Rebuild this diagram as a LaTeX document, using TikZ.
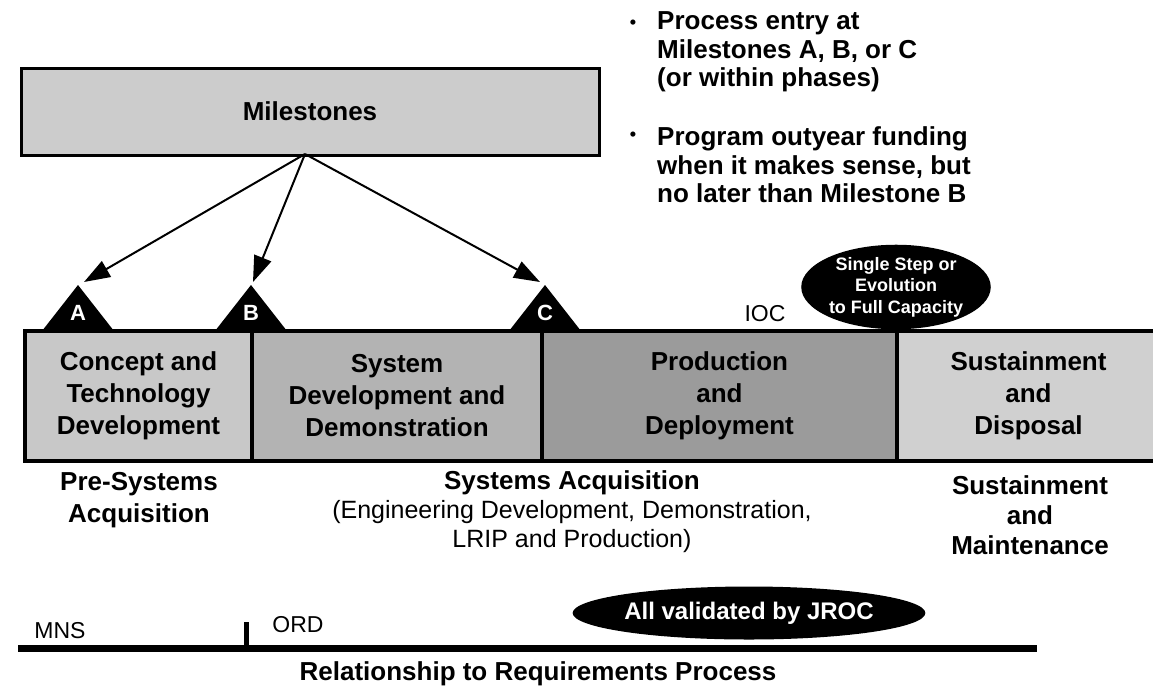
\documentclass[tikz,border=0pt]{standalone}
\usepackage{fontspec}
\setmainfont{Liberation Sans}
\usetikzlibrary{arrows.meta,shapes.geometric}
\definecolor{msgray}{HTML}{CCCCCC}
\definecolor{pone}{HTML}{C8C8C8}
\definecolor{ptwo}{HTML}{B3B3B3}
\definecolor{pthree}{HTML}{9B9B9B}
\definecolor{pfour}{HTML}{D0D0D0}
\newcommand{\fsz}[2]{\fontsize{#1}{#2}\selectfont}
\begin{document}
\begin{tikzpicture}[x=1pt,y=-1pt,
  phasebox/.style={draw=black,line width=3.5pt,minimum height=130pt,inner sep=0pt,align=center,font=\fsz{26}{32}\bfseries},
  msbox/.style={draw=black,line width=3pt,fill=msgray,inner sep=0pt,font=\fsz{26}{30}\bfseries},
  mstri/.style={fill=black},
  tletter/.style={text=white,font=\fsz{22}{24}\bfseries,inner sep=0pt},
  arr/.style={line width=2pt,-{Triangle[length=26pt,width=18pt]}},
  blackoval/.style={ellipse,fill=black,text=white,inner sep=0pt,align=center},
  bigbold/.style={align=center,inner sep=0pt,font=\fsz{26}{32}\bfseries},
  plain/.style={align=center,inner sep=0pt,font=\fsz{23}{26}},
  bullettext/.style={align=left,inner sep=0pt,anchor=west,font=\fsz{26}{28.5}\bfseries},
  bulletdot/.style={inner sep=0pt,font=\fsz{18}{20}\bfseries}
]
\useasboundingbox (0,0) rectangle (1153,691);

% Milestones box
\node[msbox,minimum width=578pt,minimum height=87pt] (ms) at (310,111.5) {Milestones};
\coordinate (mso) at (305,154);

% bullets
\node[bulletdot] (b1) at (633,24) {•};
\node[bullettext] (t1) at (657,52) {Process entry at\\Milestones A, B, or C\\(or within phases)};
\node[bulletdot] (b2) at (633,136) {•};
\node[bullettext] (t2) at (657,165) {Program outyear funding\\when it makes sense, but\\no later than Milestone B};

% phase boxes
\node[phasebox,fill=pfour,minimum width=263pt] (p4) at (1028.5,396) {Sustainment\\and\\Disposal};
\node[phasebox,fill=pthree,minimum width=355pt] (p3) at (719.5,396) {Production\\and\\Deployment};
\node[phasebox,fill=ptwo,minimum width=290pt] (p2) at (397,396) {System\\Development and\\Demonstration};
\node[phasebox,fill=pone,minimum width=227pt] (p1) at (138.5,396) {Concept and\\Technology\\Development};

% milestone triangles
\coordinate (apexA) at (78,285);
\coordinate (apexB) at (251,285);
\coordinate (apexC) at (545,285);
\fill[mstri] (apexA) -- (42,331) -- (114,331) -- cycle;
\fill[mstri] (apexB) -- (215,331) -- (287,331) -- cycle;
\fill[mstri] (apexC) -- (509,331) -- (581,331) -- cycle;
\node[tletter] (lA) at (78,313) {A};
\node[tletter] (lB) at (251,313) {B};
\node[tletter] (lC) at (545,313) {C};

% arrows from Milestones
\coordinate (tipA) at (84,282);
\coordinate (tipB) at (253,282);
\coordinate (tipC) at (540,282);
\draw[arr] (mso) -- (tipA);
\draw[arr] (mso) -- (tipB);
\draw[arr] (mso) -- (tipC);

% IOC and oval
\node[plain] (ioc) at (765,314) {IOC};
\node[blackoval,minimum width=188pt,minimum height=84pt,font=\fsz{18}{21.5}\bfseries] (ss) at (896,287) {Single Step or\\Evolution\\to Full Capacity};

% lower labels
\node[bigbold] (pre) at (139,500) {Pre-Systems\\Acquisition};
\node[bigbold] (sa) at (572,483) {Systems Acquisition};
\node[align=center,inner sep=0pt,font=\fsz{25}{29}] (sad) at (572,527) {(Engineering Development, Demonstration,\\LRIP and Production)};
\node[align=center,inner sep=0pt,font=\fsz{26}{30}\bfseries] (sm) at (1030,515) {Sustainment\\and\\Maintenance};

% requirements line
\coordinate (rl) at (18,648);
\coordinate (rr) at (1037,648);
\draw[line width=7pt] (rl) -- (rr);
\coordinate (tickb) at (246,648);
\coordinate (tickt) at (246,622);
\draw[line width=5pt] (tickb) -- (tickt);
\node[plain] (mns) at (60,631) {MNS};
\node[plain] (ord) at (298,625) {ORD};
\node[blackoval,minimum width=288pt,minimum height=53pt,font=\fsz{24}{28}\bfseries] (jroc) at (749,613) {All validated by JROC};
\node[bigbold] (rel) at (538,674) {Relationship to Requirements Process};
\end{tikzpicture}
\end{document}
